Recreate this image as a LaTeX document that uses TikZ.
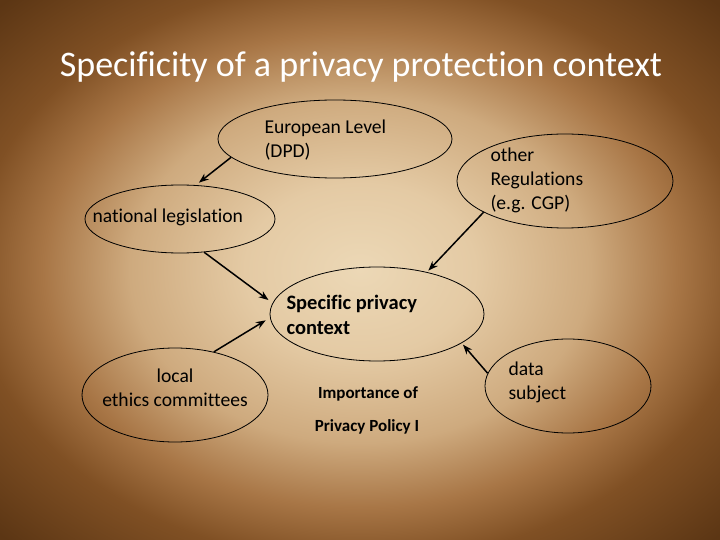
\documentclass[tikz,border=0pt]{standalone}
\usepackage{fontspec}
\setmainfont{Carlito}[Ligatures=NoCommon]
\usepackage{xcolor}
\usepackage{tikz}
\usetikzlibrary{arrows.meta, shapes.geometric}

\definecolor{paperlight}{RGB}{236,216,182}
\definecolor{paperwarm}{RGB}{228,202,164}
\definecolor{papermid}{RGB}{206,170,126}
\definecolor{paperbrown}{RGB}{168,118,70}
\definecolor{paperdark}{RGB}{128,80,36}
\definecolor{paperedge}{RGB}{92,54,20}
\pgfdeclareradialshading{parchment}{\pgfpoint{0bp}{0bp}}{%
  color(0bp)=(paperlight); color(8bp)=(paperwarm); color(16bp)=(papermid);
  color(22bp)=(paperbrown); color(27bp)=(paperdark); color(35bp)=(paperedge);
  color(50bp)=(paperedge)}

\tikzset{
  bubble/.style={draw, ellipse, line width=0.8pt, inner sep=0pt},
  txt/.style={font=\fontsize{19.6}{24}\selectfont, align=left, anchor=west},
  small/.style={font=\bfseries\fontsize{17}{20}\selectfont},
  link/.style={->, line width=1.5pt, shorten >=2pt}
}

\begin{document}
\begin{tikzpicture}[>=Stealth, x=1pt, y=-1pt]
                % fondo
                \useasboundingbox (0,0) rectangle (720,540);
                \shade[shading=parchment] (0,0) rectangle (720,540);
                % titulo
                \node[text=white, font=\fontsize{36}{40}\selectfont] (title) at (361,67) {Specificity of a privacy protection context};
                % elipses
                \node[bubble, minimum width=234pt, minimum height=78pt] (eu) at (335,139) {};
                \node[bubble, minimum width=190pt, minimum height=68pt] (nat) at (180,219) {};
                \node[bubble, minimum width=216pt, minimum height=94pt] (oth) at (565,181) {};
                \node[bubble, minimum width=214pt, minimum height=94pt] (spc) at (377,314) {};
                \node[bubble, minimum width=186pt, minimum height=94pt] (loc) at (175,395) {};
                \node[bubble, minimum width=166pt, minimum height=94pt] (ds) at (568,386) {};
                % textos
                \node[txt] (eutxt) at (261,140) {European Level\\(DPD)};
                \node[txt] (nattxt) at (89,217) {national legislation};
                \node[txt] (othtxt) at (487,180) {other\\Regulations\\(e.g. CGP)};
                \node[txt, font=\bfseries\fontsize{20.5}{25}\selectfont] (spctxt) at (283,315) {Specific privacy\\context};
                \node[txt, align=center, anchor=center] (loctxt) at (175,388) {local\\ethics committees};
                \node[txt] (dstxt) at (505,382) {data\\subject};
                \node[small] (imp) at (368,394) {Importance of};
                \node[small] (pol) at (367,427) {Privacy Policy I};
                % flechas
                \draw[link, shorten >=4pt] (eu.190) -- (nat.65);
                \draw[link] (oth.201) -- (spc.40);
                \draw[link, shorten >=5pt] (nat.306) -- (spc.174);
                \draw[link, shorten >=5pt] (loc.48.5) -- (spc.182);
                \draw[link] (ds.171) -- (spc.341);
            \end{tikzpicture}
\end{document}
